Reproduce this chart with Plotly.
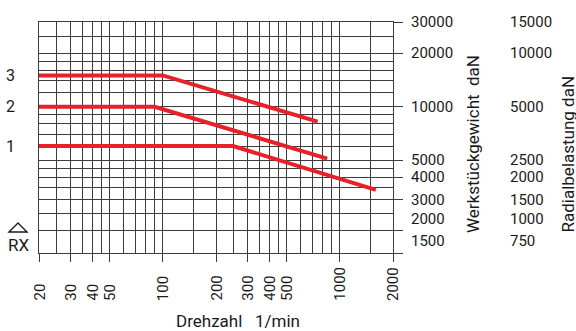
import numpy as np
import plotly.graph_objects as go

# ---- data ----
rpm_3 = [20, 100, 750]
load_3 = [15000, 15000, 8250]
rpm_2 = [20, 90, 850]
load_2 = [10000, 10000, 5100]
rpm_1 = [20, 250, 1600]
load_1 = [6000, 6000, 3400]
curve_names = ["3", "2", "1"]

x_tick_vals = [20, 30, 40, 50, 100, 200, 300, 400, 500, 1000, 2000]
x_tick_text = ["20", "30", "40", "50", "100", "200", "300", "400", "500", "1000", "2000"]
x_minor_vals = [25, 35, 45, 60, 70, 80, 90, 150, 250, 350, 450, 600, 700, 800, 900, 1500]

y_tick_vals = [30000, 20000, 10000, 5000, 4000, 3000, 2000, 1500]
y_tick_text = ["30000", "20000", "10000", "5000", "4000", "3000", "2000", "1500"]
radial_text = ["15000", "10000", "5000", "2500", "2000", "1500", "1000", "750"]
y_minor_vals = [25000, 18000, 16000, 14000, 12000, 9000, 8000, 7000, 6000, 4500, 3500, 2500]

x_title = "Drehzahl\u00a0\u00a0 1/min"
y_title = "Werkstückgewicht\u00a0 daN"
y2_title = "Radialbelastung daN"

# ---- figure ----
RED = "#e8202a"
GRID = "#3c3c3c"
TXT = "#1a1a1a"
FONT = "Roboto"

fig = go.Figure()
for xs, ys in [(rpm_3, load_3), (rpm_2, load_2), (rpm_1, load_1)]:
    fig.add_trace(go.Scatter(x=xs, y=ys, mode="lines",
                             line=dict(color=RED, width=4), showlegend=False,
                             hoverinfo="skip"))

fig.update_xaxes(type="log", range=[np.log10(20), np.log10(2000)],
                 tickvals=x_tick_vals, showticklabels=False,
                 ticks="outside", ticklen=8, tickcolor=GRID, tickwidth=1,
                 showgrid=True, gridcolor=GRID, gridwidth=1,
                 minor=dict(tickvals=x_minor_vals, showgrid=True, gridcolor=GRID,
                            gridwidth=1, ticks=""),
                 showline=True, linecolor=GRID, linewidth=1, mirror=True,
                 zeroline=False)
fig.update_yaxes(type="log", range=[np.log10(1500), np.log10(30000)], side="right",
                 tickvals=y_tick_vals, showticklabels=False,
                 ticks="outside", ticklen=9, tickcolor=GRID, tickwidth=1,
                 showgrid=True, gridcolor=GRID, gridwidth=1,
                 minor=dict(tickvals=y_minor_vals, showgrid=True, gridcolor=GRID,
                            gridwidth=1, ticks=""),
                 showline=True, linecolor=GRID, linewidth=1, mirror=True,
                 zeroline=False)


def F(size):
    return dict(family=FONT, size=size, color=TXT)


ann = []
# x tick labels (rotated, bottom aligned)
for v, t in zip(x_tick_vals, x_tick_text):
    ann.append(dict(x=np.log10(v), xref="x", y=0, yref="paper", text=t,
                    textangle=-90, showarrow=False, xanchor="center",
                    yanchor="bottom", yshift=-50, font=F(15)))
# y tick labels, two columns
for v, t, t2 in zip(y_tick_vals, y_tick_text, radial_text):
    ys = 12 if v <= 2000 else 0
    ann.append(dict(x=1, xref="paper", y=np.log10(v), yref="y", text=t,
                    showarrow=False, xanchor="left", yanchor="middle",
                    xshift=16, yshift=ys, font=F(15)))
    ann.append(dict(x=1, xref="paper", y=np.log10(v), yref="y", text=t2,
                    showarrow=False, xanchor="left", yanchor="middle",
                    xshift=115, yshift=ys, font=F(15)))
# curve labels
for name, ys in zip(curve_names, [load_3, load_2, load_1]):
    ann.append(dict(x=0, xref="paper", y=np.log10(ys[0]), yref="y", text=name,
                    showarrow=False, xanchor="center", yanchor="middle",
                    xshift=-29, font=F(16)))
# RX
ann.append(dict(x=0, xref="paper", y=0, yref="paper", text="RX", showarrow=False,
                xanchor="center", yanchor="middle", xshift=-21, yshift=8,
                font=F(17)))
# titles
ann.append(dict(x=0.5, xref="paper", y=0, yref="paper", text=x_title,
                showarrow=False, xanchor="center", yanchor="middle",
                xshift=22, yshift=-68, font=F(17)))
ann.append(dict(x=1, xref="paper", y=0, yref="paper", text=y_title, textangle=-90,
                showarrow=False, xanchor="center", yanchor="bottom",
                xshift=80, yshift=18, font=F(17)))
ann.append(dict(x=1, xref="paper", y=0, yref="paper", text=y2_title, textangle=-90,
                showarrow=False, xanchor="center", yanchor="bottom",
                xshift=174, yshift=18, font=F(17)))

# plot area in page pixels: x 39..393, y 22..253
W, H = 576, 331
L, T = 39, 22
R = W - 393
B = H - 253
pw, ph = W - L - R, H - T - B


def px(xp, yp):
    return (xp - L) / pw, (H - B - yp) / ph


a = px(9, 232); b = px(27, 232); c = px(18, 223)
tri = f"M {a[0]},{a[1]} L {c[0]},{c[1]} L {b[0]},{b[1]} Z"

fig.update_layout(
    width=W, height=H,
    margin=dict(l=L, r=R, t=T, b=B),
    paper_bgcolor="white", plot_bgcolor="white",
    annotations=ann,
    shapes=[dict(type="path", path=tri, xref="paper", yref="paper",
                 line=dict(color=TXT, width=1.4), fillcolor="rgba(0,0,0,0)")],
    showlegend=False,
)

fig.write_html("out.html", config={"displayModeBar": False},
               post_script="document.body.style.margin='0';"
                           "document.body.style.overflow='hidden';")
